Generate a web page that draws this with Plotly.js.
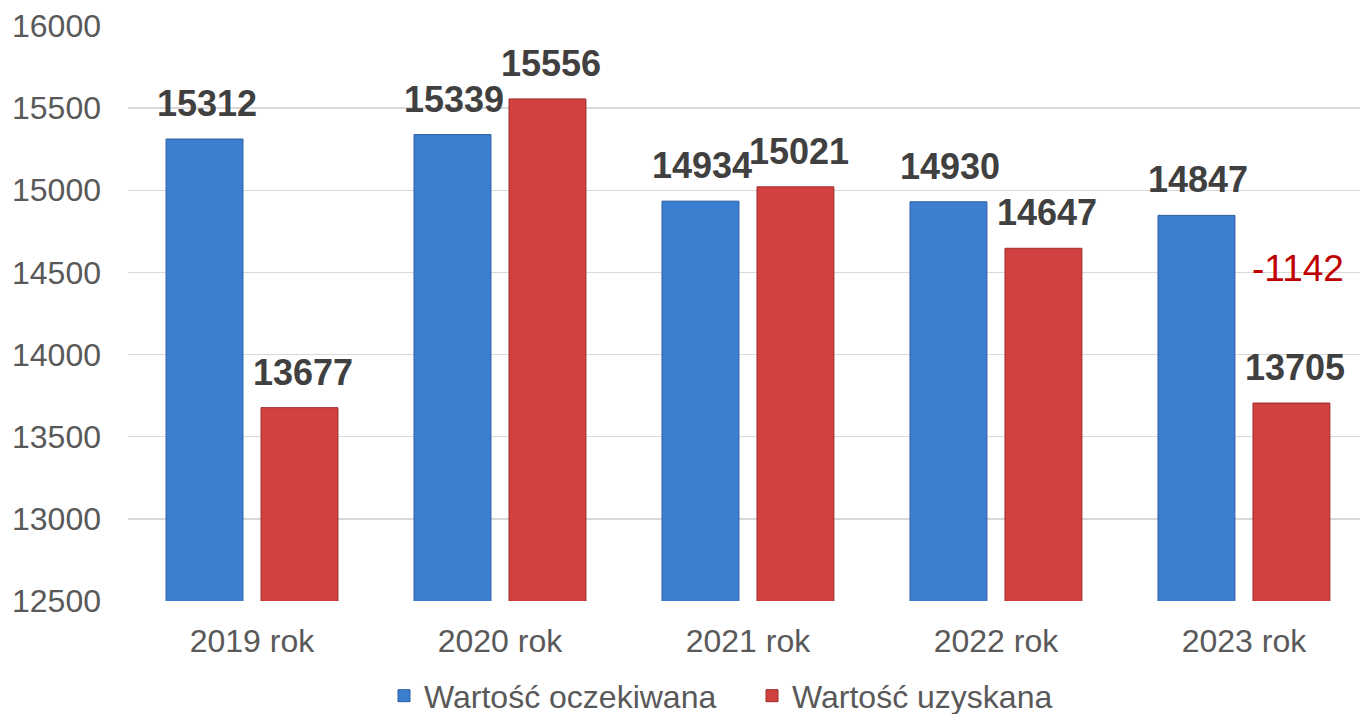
<!DOCTYPE html>
<html><head><meta charset="utf-8">
<script src="https://cdn.plot.ly/plotly-3.0.1.min.js"></script>
<style>html,body{margin:0;padding:0;background:#fff}#c{width:1360px;height:714px}</style>
</head><body><div id="c"></div>
<script>
const categories = ["2019 rok","2020 rok","2021 rok","2022 rok","2023 rok"];
const expected = [15312,15339,14934,14930,14847];
const obtained = [13677,15556,15021,14647,13705];
const seriesNames = ["Wartość oczekiwana","Wartość uzyskana"];

const FONT = "Liberation Sans, Arial, sans-serif";
const off = 0.1915;
const traces = [
  {type:"bar", name:seriesNames[0], x:categories, y:expected,
   marker:{color:"#3c7ecf", line:{color:"#2b5f9f", width:1}}, hoverinfo:"y"},
  {type:"bar", name:seriesNames[1], x:categories, y:obtained,
   marker:{color:"#d14140", line:{color:"#9e2c2b", width:1}}, hoverinfo:"y"}
];
const ann = [];
expected.forEach((v,i)=>ann.push({x:i-off, y:v, xref:"x", yref:"y", text:String(v), showarrow:false,
  yanchor:"bottom", yshift:13, xshift:2, font:{family:FONT, size:36, color:"#404040", weight:700}}));
obtained.forEach((v,i)=>ann.push({x:i+off, y:v, xref:"x", yref:"y", text:String(v), showarrow:false,
  yanchor:"bottom", yshift:13, xshift:4, font:{family:FONT, size:36, color:"#404040", weight:700}}));
const last = categories.length-1;
ann.push({x:last+off, y:14525, xref:"x", yref:"y", text:String(obtained[last]-expected[last]), showarrow:false,
  yanchor:"middle", xshift:7, font:{family:FONT, size:37, color:"#c00000"}});

const layout = {
  width:1360, height:714,
  margin:{l:128, r:0, t:26, b:113, autoexpand:false},
  paper_bgcolor:"#fff", plot_bgcolor:"#fff",
  barmode:"group", bargap:0.234, bargroupgap:0.19,
  font:{family:FONT, color:"#595959", size:32},
  xaxis:{type:"category", range:[-0.5, 4.468], showgrid:false, showline:false, zeroline:false, ticks:"", automargin:false,
    tickfont:{family:FONT, size:32, color:"#595959"}, ticklabelstandoff:18},
  yaxis:{range:[12500,16000], dtick:500, tick0:12500, tickformat:"d", gridcolor:"#d9d9d9", gridwidth:1.5,
    zeroline:false, showline:false, ticks:"", automargin:false, tickfont:{family:FONT, size:32, color:"#595959"},
    ticklabelstandoff:26},
  showlegend:true,
  legend:{orientation:"h", x:0.2078, xanchor:"left", y:-0.165, yanchor:"middle",
    font:{family:FONT, size:32, color:"#595959"}, itemwidth:30, traceorder:"normal",
    entrywidth:323, entrywidthmode:"pixels"},
  annotations:ann
};
Plotly.newPlot("c", traces, layout, {displayModeBar:false, staticPlot:true});
</script></body></html>
